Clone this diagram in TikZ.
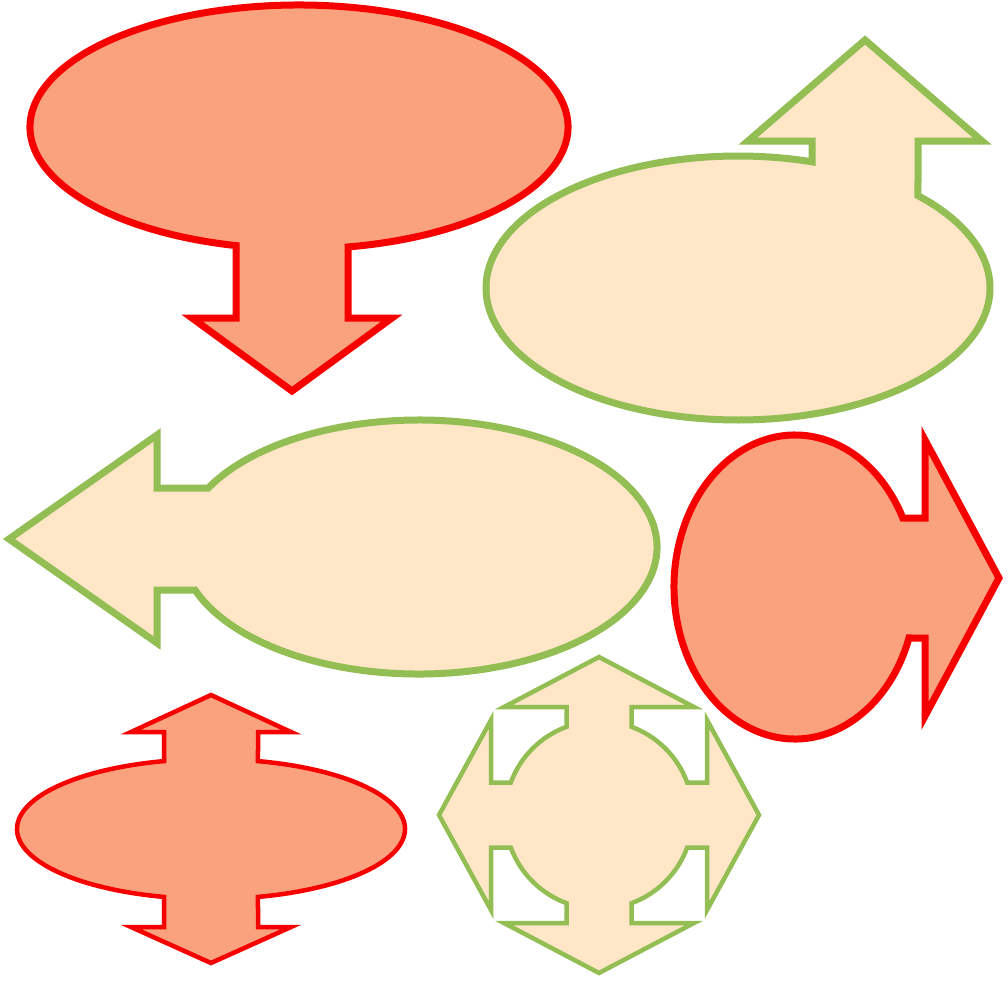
\documentclass[tikz,border=0pt]{standalone}
\definecolor{redfill}{RGB}{250,161,126}
\definecolor{redline}{RGB}{246,0,0}
\definecolor{grnline}{RGB}{146,190,84}
\definecolor{peach}{RGB}{254,230,198}
\begin{document}
\begin{tikzpicture}[x=1pt,y=-1pt,
  redshape/.style={fill=redfill,draw=redline,line join=miter,line width=7pt},
  grnshape/.style={fill=peach,draw=grnline,line join=miter,line width=7pt},
  thinline/.style={line width=4.5pt}]
\useasboundingbox (0,0) rectangle (1008,980);
% shape 1: red ellipse with down arrow
\draw[redshape] ([shift={(299,127)}]103.54:269 and 122)
  arc[start angle=103.54, end angle=439.5, x radius=269, y radius=122]
  -- (348,318) -- (392,318) -- (292,391) -- (192,318) -- (236,318) -- cycle;
% shape 2: green ellipse with up arrow
\draw[grnshape] ([shift={(738,288)}]315.58:252 and 132)
  arc[start angle=315.58, end angle=647.08, x radius=252, y radius=132]
  -- (812,141) -- (748,141) -- (865,40) -- (982,141) -- (918,141) -- cycle;
% shape 3: green ellipse with left arrow
\draw[grnshape] ([shift={(419,547)}]207.68:238 and 127)
  arc[start angle=207.68, end angle=520.21, x radius=238, y radius=127]
  -- (157,590) -- (157,643) -- (9,539) -- (157,435) -- (157,488) -- cycle;
% shape 4: red ellipse with right arrow
\draw[redshape] ([shift={(795,587)}]19.60:121 and 152)
  arc[start angle=19.60, end angle=333.0, x radius=121, y radius=152]
  -- (925,518) -- (925,440) -- (999,578) -- (925,716) -- (925,638) -- cycle;
% shape 5: red ellipse with up/down arrows
\draw[redshape,thinline] ([shift={(211,829)}]284.02:194 and 70)
  arc[start angle=284.02, end angle=435.98, x radius=194, y radius=70]
  -- (258,927) -- (291,927) -- (211,963) -- (131,927) -- (164,927)
  -- ([shift={(211,829)}]104.02:194 and 70)
  arc[start angle=104.02, end angle=255.98, x radius=194, y radius=70]
  -- (164,732) -- (131,732) -- (211,695) -- (291,732) -- (258,732) -- cycle;
% shape 6: four-way arrow
\draw[grnshape,thinline,shift={(599,815)}]
  (0,-158) -- (95,-108) -- (32.5,-108) -- (32.5,-88.2)
  arc[start angle=-69.77, end angle=-20.23, radius=94]
  -- (108,-32.5) -- (108,-95) -- (160,0) -- (108,95) -- (108,32.5) -- (88.2,32.5)
  arc[start angle=20.23, end angle=69.77, radius=94]
  -- (32.5,108) -- (95,108) -- (0,158) -- (-95,108) -- (-32.5,108) -- (-32.5,88.2)
  arc[start angle=110.23, end angle=159.77, radius=94]
  -- (-108,32.5) -- (-108,95) -- (-160,0) -- (-108,-95) -- (-108,-32.5) -- (-88.2,-32.5)
  arc[start angle=200.23, end angle=249.77, radius=94]
  -- (-32.5,-108) -- (-95,-108) -- cycle;
\end{tikzpicture}
\end{document}
